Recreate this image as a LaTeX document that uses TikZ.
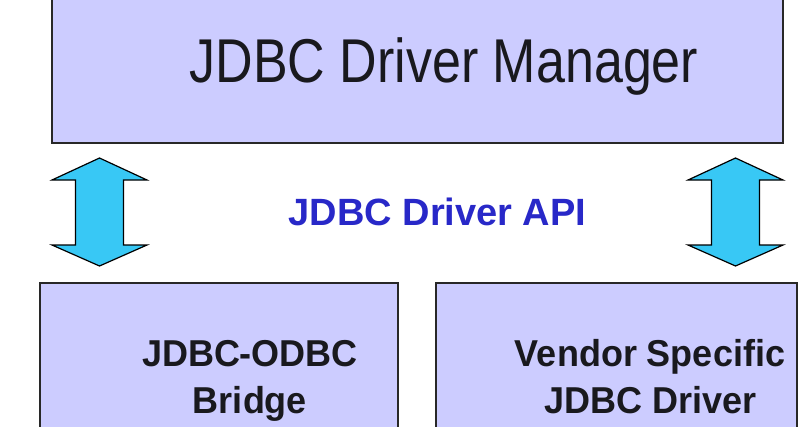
\documentclass[tikz,border=0pt]{standalone}
\usepackage{fontspec}
\setmainfont{Liberation Sans}
\definecolor{boxfill}{RGB}{204,204,255}
\definecolor{arrowfill}{RGB}{56,200,245}
\definecolor{apiblue}{RGB}{40,40,200}
\definecolor{edge}{RGB}{40,40,40}
\definecolor{txt}{RGB}{25,25,30}
\begin{document}
\begin{tikzpicture}[x=1pt,y=-1pt,
  layerbox/.style={draw=edge,line width=2pt,fill=boxfill,rectangle,inner sep=0pt},
  bigtext/.style={anchor=base,inner sep=0pt,text=txt,font=\fontsize{52}{60}\selectfont},
  boldtext/.style={anchor=base,inner sep=0pt,text=txt,font=\fontsize{36}{44}\selectfont\bfseries},
  apiarrow/.style={draw=black,line width=1.2pt,fill=arrowfill,line join=miter}]
\useasboundingbox (0,0) rectangle (810,426);
% boxes
\node[layerbox,minimum width=731pt,minimum height=150pt] (mgr) at (417.5,68) {};
\node[layerbox,minimum width=358pt,minimum height=160pt] (bridge) at (219,363) {};
\node[layerbox,minimum width=361pt,minimum height=160pt] (vendor) at (616.5,363) {};
% texts
\node[bigtext] (mgrtext) at (444,82) {\scalebox{1}[1.19]{JDBC Driver Manager}};
\node[boldtext,text=apiblue,font=\fontsize{38}{44}\selectfont\bfseries] (api) at (437.5,225) {JDBC Driver API};
\node[boldtext] (bridgea) at (250,366) {\scalebox{1}[1.04]{JDBC-ODBC}};
\node[boldtext] (bridgeb) at (250,413) {\scalebox{1}[1.04]{Bridge}};
\node[boldtext] (vendora) at (650,366) {\scalebox{1}[1.04]{Vendor Specific}};
\node[boldtext] (vendorb) at (651,413) {\scalebox{1}[1.04]{JDBC Driver}};
% double arrows
\coordinate (la) at (99.5,158);
\coordinate (ra) at (735.5,158);
\foreach \c in {la,ra}{
  \draw[apiarrow] (\c) -- ++(47.5,22) -- ++(-23.5,0) -- ++(0,65) -- ++(23.5,0)
    -- ++(-47.5,21) -- ++(-47.5,-21) -- ++(23.5,0) -- ++(0,-65) -- ++(-23.5,0) -- cycle;
}
\end{tikzpicture}
\end{document}
